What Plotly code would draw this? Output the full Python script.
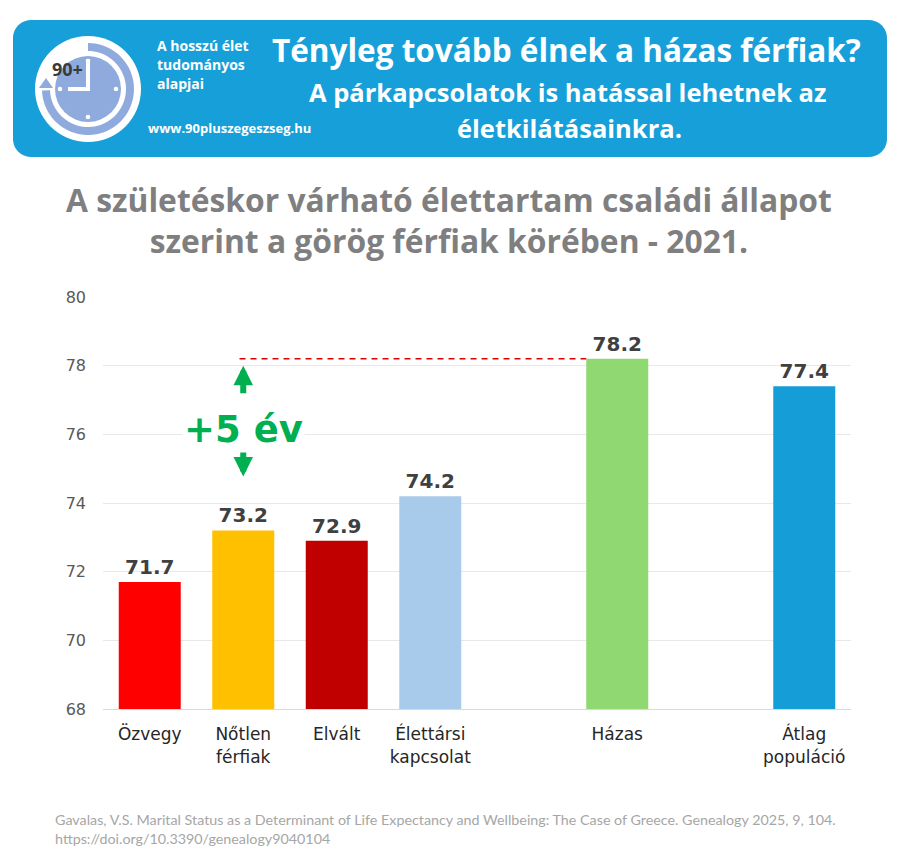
import math
import plotly.graph_objects as go

# ---------------- data ----------------
categories = ["Özvegy", "Nőtlen<br>férfiak", "Elvált", "Élettársi<br>kapcsolat", "Házas", "Átlag<br>populáció"]
values = [71.7, 73.2, 72.9, 74.2, 78.2, 77.4]
bar_colors = ["#FF0000", "#FFC000", "#C00000", "#A8CBEC", "#8FD872", "#149DD6"]
axis_order = ["Özvegy", "Nőtlen<br>férfiak", "Elvált", "Élettársi<br>kapcsolat", " ", "Házas", "  ", "Átlag<br>populáció"]
y_ticks = [68, 70, 72, 74, 76, 78, 80]

header_title = "Tényleg tovább élnek a házas férfiak?"
header_sub1 = "A párkapcsolatok is hatással lehetnek az"
header_sub2 = "életkilátásainkra."
logo_lines = ["A hosszú élet", "tudományos", "alapjai"]
logo_url = "www.90pluszegeszseg.hu"
chart_title = "A születéskor várható élettartam családi állapot<br>szerint a görög férfiak körében - 2021."
source_text = ("Gavalas, V.S. Marital Status as a Determinant of Life Expectancy and Wellbeing: "
               "The Case of Greece. Genealogy 2025, 9, 104.<br>https://doi.org/10.3390/genealogy9040104")
gain_text = "+5 év"

# ---------------- layout geometry ----------------
WIDTH, HEIGHT = 900, 865
ML, MR, MT, MB = 103, 49, 297, 156
PW = WIDTH - ML - MR
PH = HEIGHT - MT - MB
BARGAP = 0.337


def px(xp):
    return (xp - ML) / PW


def py(yp):
    return (HEIGHT - MB - yp) / PH


def path_from_pixels(points, close=True):
    s = "M " + " L ".join(f"{px(a):.5f},{py(b):.5f}" for a, b in points)
    return s + (" Z" if close else "")


def rounded_rect(x0, y0, x1, y1, r, n=10):
    pts = []
    corners = [(x1 - r, y0 + r, -90, 0), (x1 - r, y1 - r, 0, 90),
               (x0 + r, y1 - r, 90, 180), (x0 + r, y0 + r, 180, 270)]
    for cx, cy, a0, a1 in corners:
        for i in range(n + 1):
            a = math.radians(a0 + (a1 - a0) * i / n)
            pts.append((cx + r * math.cos(a), cy + r * math.sin(a)))
    return path_from_pixels(pts)


def circle_shape(cx, cy, r, color):
    return dict(type="circle", xref="paper", yref="paper",
                x0=px(cx - r), x1=px(cx + r), y0=py(cy + r), y1=py(cy - r),
                fillcolor=color, line=dict(width=0), layer="above")


def ring_arc(cx, cy, r_in, r_out, deg0, deg1, n=60):
    # degrees measured clockwise from 12 o'clock (screen)
    outer, inner = [], []
    for i in range(n + 1):
        d = math.radians(deg0 + (deg1 - deg0) * i / n)
        outer.append((cx + r_out * math.sin(d), cy - r_out * math.cos(d)))
        inner.append((cx + r_in * math.sin(d), cy - r_in * math.cos(d)))
    return path_from_pixels(outer + inner[::-1])


fig = go.Figure()
fig.add_trace(go.Bar(
    x=categories, y=values,
    marker=dict(color=bar_colors, line=dict(width=0)),
    texttemplate="%{y:.1f}", textposition="outside",
    textfont=dict(family="DejaVu Sans", size=20, color="#404040", weight="bold"),
    cliponaxis=False, constraintext="none", hoverinfo="skip",
))

shapes = []
# header banner
shapes.append(dict(type="path", xref="paper", yref="paper", path=rounded_rect(13, 20, 887, 157, 18),
                   fillcolor="#179FDA", line=dict(width=0), layer="above"))
# logo
CX, CY = 88, 89
shapes.append(circle_shape(CX, CY, 53, "#FFFFFF"))
shapes.append(dict(type="path", xref="paper", yref="paper", path=ring_arc(CX, CY, 38, 46, 0, 268),
                   fillcolor="#8FAADC", line=dict(width=0), layer="above"))
shapes.append(dict(type="path", xref="paper", yref="paper",
                   path=path_from_pixels([(CX - 49, CY - 1), (CX - 35, CY - 1), (CX - 42, CY - 11)]),
                   fillcolor="#8FAADC", line=dict(width=0), layer="above"))
shapes.append(circle_shape(CX, CY, 33, "#8FAADC"))
for ang in (0, 90, 180, 270):
    a = math.radians(ang)
    shapes.append(circle_shape(CX + 28 * math.sin(a), CY - 28 * math.cos(a), 2.3, "#FFFFFF"))
shapes.append(dict(type="line", xref="paper", yref="paper", x0=px(CX), x1=px(CX), y0=py(CY + 2), y1=py(CY - 30),
                   line=dict(color="#FFFFFF", width=4), layer="above"))
shapes.append(dict(type="line", xref="paper", yref="paper", x0=px(CX + 2), x1=px(CX - 20), y0=py(CY), y1=py(CY),
                   line=dict(color="#FFFFFF", width=4), layer="above"))

# dashed reference line from Nőtlen level to Házas bar
half = (1 - BARGAP) / 2
idx_notlen = axis_order.index(categories[1])
idx_hazas = axis_order.index(categories[4])
shapes.append(dict(type="line", xref="x", yref="y", x0=idx_notlen - 0.04, x1=idx_hazas - half,
                   y0=values[4], y1=values[4], line=dict(color="#E00000", width=1.5, dash="6px,5px"),
                   layer="above"))

annotations = []
HF = "Open Sans"
annotations.append(dict(xref="paper", yref="paper", x=px(566), y=py(49), text=f"<b>{header_title}</b>",
                        showarrow=False, font=dict(family=HF, size=31.5, color="#FFFFFF"), xanchor="center", yanchor="middle"))
annotations.append(dict(xref="paper", yref="paper", x=px(567), y=py(92), text=f"<b>{header_sub1}</b>",
                        showarrow=False, font=dict(family=HF, size=25.5, color="#FFFFFF"), xanchor="center", yanchor="middle"))
annotations.append(dict(xref="paper", yref="paper", x=px(569), y=py(128), text=f"<b>{header_sub2}</b>",
                        showarrow=False, font=dict(family=HF, size=25.5, color="#FFFFFF"), xanchor="center", yanchor="middle"))
for i, line in enumerate(logo_lines):
    annotations.append(dict(xref="paper", yref="paper", x=px(155), y=py(45 + 19.5 * i), text=f"<b>{line}</b>",
                            showarrow=False, font=dict(family=HF, size=14, color="#FFFFFF"), xanchor="left", yanchor="middle"))
annotations.append(dict(xref="paper", yref="paper", x=px(146), y=py(128), text=f"<b>{logo_url}</b>",
                        showarrow=False, font=dict(family=HF, size=13, color="#FFFFFF"), xanchor="left", yanchor="middle"))
annotations.append(dict(xref="paper", yref="paper", x=px(67.5), y=py(69), text="<b>90+</b>",
                        showarrow=False, font=dict(family="Open Sans", size=18, color="#3A3A3A"), xanchor="center", yanchor="middle"))
# chart title
annotations.append(dict(xref="paper", yref="paper", x=px(449), y=py(220), text=f"<b>{chart_title}</b>",
                        showarrow=False, font=dict(family="Open Sans", size=31.8, color="#7F7F7F"),
                        xanchor="center", yanchor="middle", align="center"))
# source
annotations.append(dict(xref="paper", yref="paper", x=px(53), y=py(829), text=source_text,
                        showarrow=False, font=dict(family="Lato", size=14.3, color="#A6A6A6"),
                        xanchor="left", yanchor="middle", align="left"))
# arrows and gain label
annotations.append(dict(xref="x", yref="y", x=idx_notlen, y=values[4], ax=0, ay=36, standoff=7, text="",
                        showarrow=True, arrowhead=2, arrowwidth=6, arrowsize=0.65, arrowcolor="#00B050"))
annotations.append(dict(xref="x", yref="y", x=idx_notlen, y=values[1], ax=0, ay=-81, standoff=54, text="",
                        showarrow=True, arrowhead=2, arrowwidth=6, arrowsize=0.65, arrowcolor="#00B050"))
annotations.append(dict(xref="x", yref="y", x=idx_notlen, y=76.15, text=f"<b>{gain_text}</b>", showarrow=False,
                        font=dict(family="DejaVu Sans", size=37, color="#00B050"), bgcolor="#FFFFFF",
                        xanchor="center", yanchor="middle"))

fig.update_layout(
    width=WIDTH, height=HEIGHT,
    margin=dict(l=ML, r=MR, t=MT, b=MB, autoexpand=False),
    paper_bgcolor="#FFFFFF", plot_bgcolor="#FFFFFF",
    bargap=BARGAP, showlegend=False,
    shapes=shapes, annotations=annotations,
    xaxis=dict(type="category", categoryorder="array", categoryarray=axis_order,
               range=[-0.5, len(axis_order) - 0.5], showgrid=False, zeroline=False,
               showline=True, linecolor="#D9D9D9", linewidth=1, ticks="", ticklabelstandoff=10,
               tickfont=dict(family="DejaVu Sans", size=17, color="#262626")),
    yaxis=dict(range=[68, 80], tickvals=y_ticks, showgrid=True, gridcolor="#E8E8E8", gridwidth=1,
               zeroline=False, showline=False, ticks="", ticklabelstandoff=16,
               tickfont=dict(family="DejaVu Sans", size=16, color="#595959")),
)

fig.write_html("out.html")
